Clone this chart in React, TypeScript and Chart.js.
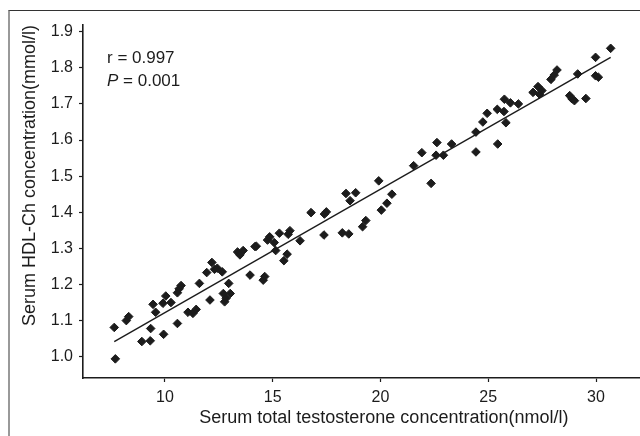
import React, { useEffect, useRef } from "react";
import { Chart, registerables } from "chart.js";

Chart.register(...registerables);

const xValues = [7.65, 7.7, 8.21, 8.32, 8.93, 9.32, 9.34, 9.45, 9.57, 9.91, 9.94, 10.04, 10.28, 10.58, 10.58, 10.66, 10.75, 11.07, 11.3, 11.45, 11.6, 11.94, 12.09, 12.18, 12.3, 12.43, 12.66, 12.71, 12.77, 12.84, 12.96, 13.03, 13.37, 13.48, 13.63, 13.95, 14.18, 14.24, 14.56, 14.63, 14.76, 14.86, 15.07, 15.14, 15.31, 15.52, 15.67, 15.72, 15.8, 16.27, 16.78, 17.38, 17.4, 17.49, 18.23, 18.4, 18.53, 18.59, 18.85, 19.17, 19.32, 19.92, 20.04, 20.3, 20.53, 21.54, 21.92, 22.35, 22.58, 22.62, 22.92, 23.3, 24.43, 24.43, 24.75, 24.95, 25.42, 25.44, 25.73, 25.75, 25.82, 26.03, 26.4, 27.08, 27.31, 27.38, 27.49, 27.91, 28.06, 28.19, 28.78, 28.89, 29.0, 29.15, 29.53, 29.98, 29.98, 30.11, 30.68];
const yValues = [1.081, 0.994, 1.1, 1.111, 1.042, 1.044, 1.078, 1.145, 1.123, 1.148, 1.062, 1.168, 1.15, 1.092, 1.177, 1.188, 1.197, 1.123, 1.12, 1.131, 1.203, 1.233, 1.157, 1.261, 1.242, 1.245, 1.235, 1.175, 1.152, 1.162, 1.203, 1.175, 1.29, 1.282, 1.294, 1.226, 1.305, 1.306, 1.212, 1.222, 1.323, 1.332, 1.316, 1.294, 1.342, 1.266, 1.284, 1.339, 1.349, 1.321, 1.399, 1.337, 1.395, 1.401, 1.343, 1.452, 1.34, 1.432, 1.454, 1.36, 1.377, 1.487, 1.406, 1.425, 1.45, 1.529, 1.565, 1.48, 1.558, 1.593, 1.558, 1.589, 1.567, 1.622, 1.65, 1.674, 1.685, 1.589, 1.679, 1.713, 1.648, 1.703, 1.7, 1.732, 1.748, 1.727, 1.737, 1.768, 1.78, 1.794, 1.723, 1.714, 1.709, 1.783, 1.715, 1.829, 1.778, 1.774, 1.854];

const fitLineX = [7.65, 30.68];
const fitLineY = [1.042, 1.829];

const xTicks = [10, 15, 20, 25, 30];
const yTicks = [1.0, 1.1, 1.2, 1.3, 1.4, 1.5, 1.6, 1.7, 1.8, 1.9];

const annotationR = "r = 0.997";
const annotationP = " = 0.001";

const ink = "#1c1c1c";
const fontFamily = "'Liberation Sans', Arial, sans-serif";

const annotationPlugin = {
  id: "annot",
  afterDraw(chart: any) {
    const ctx = chart.ctx;
    ctx.save();
    ctx.fillStyle = ink;
    ctx.textBaseline = "alphabetic";
    ctx.textAlign = "left";
    ctx.font = `17px ${fontFamily}`;
    ctx.fillText(annotationR, 107, 63);
    ctx.font = `italic 17px ${fontFamily}`;
    ctx.fillText("P", 107, 86);
    const w = ctx.measureText("P").width;
    ctx.font = `17px ${fontFamily}`;
    ctx.fillText(annotationP, 107 + w, 86);
    ctx.restore();
  },
};

export default function App() {
  const ref = useRef<HTMLCanvasElement>(null);
  useEffect(() => {
    if (!ref.current) return;
    const chart = new Chart(ref.current, {
      type: "scatter",
      data: {
        datasets: [
          {
            label: "points",
            data: xValues.map((x, i) => ({ x, y: yValues[i] })),
            pointStyle: "rectRot",
            pointRadius: 4.3,
            pointBackgroundColor: ink,
            pointBorderColor: ink,
            pointBorderWidth: 1,
            showLine: false,
          },
          {
            label: "fit",
            data: fitLineX.map((x, i) => ({ x, y: fitLineY[i] })),
            showLine: true,
            borderColor: ink,
            borderWidth: 1.4,
            pointRadius: 0,
            fill: false,
          },
        ],
      },
      options: {
        animation: false,
        responsive: false,
        devicePixelRatio: 1,
        layout: { padding: { top: 25, left: 0, right: 2, bottom: 0 } },
        plugins: { legend: { display: false }, tooltip: { enabled: false } },
        scales: {
          x: {
            type: "linear",
            min: 6.2,
            max: 34.115,
            afterBuildTicks: (s: any) => {
              s.ticks = xTicks.map((v) => ({ value: v }));
            },
            afterFit: (s: any) => {
              s.height = 58;
            },
            grid: { drawOnChartArea: false, drawTicks: true, tickLength: 4, color: ink, tickWidth: 1.2 },
            border: { display: true, color: ink, width: 1.6 },
            ticks: {
              color: ink,
              font: { family: fontFamily, size: 16 },
              padding: 6,
              maxRotation: 0,
              callback: (v: any) => String(v),
            },
            title: {
              display: true,
              text: "Serum total testosterone concentration(nmol/l)",
              color: ink,
              font: { family: fontFamily, size: 18 },
              padding: { top: 0, bottom: 7 },
            },
          },
          y: {
            type: "linear",
            min: 0.941,
            max: 1.9186,
            afterBuildTicks: (s: any) => {
              s.ticks = yTicks.map((v) => ({ value: v }));
            },
            afterFit: (s: any) => {
              s.width = 83;
            },
            grid: { drawOnChartArea: false, drawTicks: true, tickLength: 4, color: ink, tickWidth: 1.2 },
            border: { display: true, color: ink, width: 1.6 },
            ticks: {
              color: ink,
              font: { family: fontFamily, size: 16 },
              padding: 6,
              callback: (v: any) => Number(v).toFixed(1),
            },
            title: {
              display: true,
              text: "Serum HDL-Ch concentration(mmol/l)",
              color: ink,
              align: "end",
              font: { family: fontFamily, size: 18 },
              padding: { top: 19, bottom: 0 },
            },
          },
        },
      },
      plugins: [annotationPlugin],
    } as any);
    return () => chart.destroy();
  }, []);

  return (
    <div style={{ position: "fixed", left: 0, top: 0, width: 640, height: 436, overflow: "hidden", background: "#fff" }}>
      <div
        style={{
          position: "absolute",
          left: 8,
          top: 10,
          width: 720,
          height: 500,
          borderTop: "1px solid #333",
          borderLeft: "2px solid #999",
        }}
      />
      <canvas ref={ref} width={690} height={436} style={{ position: "absolute", left: 0, top: 0, width: 690, height: 436 }} />
    </div>
  );
}
